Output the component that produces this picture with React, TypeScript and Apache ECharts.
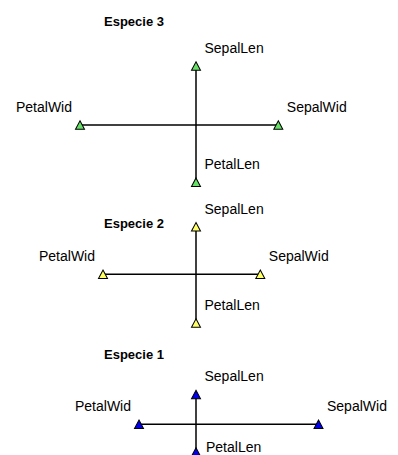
import { useEffect, useRef } from 'react';
import * as echarts from 'echarts';

// Star-plot arm lengths (relative units)
const species = ['Especie 3', 'Especie 2', 'Especie 1'];
const variables = ['SepalLen', 'SepalWid', 'PetalLen', 'PetalWid'];
const sepalLen = [0.59, 0.475, 0.298];
const sepalWid = [0.823, 0.643, 1.225];
const petalLen = [0.572, 0.487, 0.277];
const petalWid = [1.16, 0.93, 0.57];

const markerColors = ['#66E066', '#FFFF66', '#0000EE'];

const W = 398;
const H = 455;
const CX = 196;
const CENTERS_Y = [125, 274.3, 424.3];
const TITLE_Y = [21, 223.7, 354];
const TITLE_X = 104;
const PX_PER_UNIT = 100;
const XR = 1.5;
const YR = 0.3;
const FONT = '"Liberation Sans", Arial, Helvetica, sans-serif';

export default function App() {
  const ref = useRef<HTMLDivElement>(null);

  useEffect(() => {
    if (!ref.current) return;
    const chart = echarts.init(ref.current, undefined, { renderer: 'svg' });

    const grid: any[] = [];
    const xAxis: any[] = [];
    const yAxis: any[] = [];
    const series: any[] = [];
    const graphic: any[] = [];

    species.forEach((name, i) => {
      const cy = CENTERS_Y[i];
      grid.push({
        left: CX - XR * PX_PER_UNIT,
        top: cy - YR * PX_PER_UNIT,
        width: 2 * XR * PX_PER_UNIT,
        height: 2 * YR * PX_PER_UNIT,
        show: false,
      });
      xAxis.push({ gridIndex: i, type: 'value', min: -XR, max: XR, show: false });
      yAxis.push({ gridIndex: i, type: 'value', min: -YR, max: YR, show: false });

      const sl = sepalLen[i];
      const sw = sepalWid[i];
      const pl = petalLen[i];
      const pw = petalWid[i];

      const lineCommon = {
        type: 'line',
        xAxisIndex: i,
        yAxisIndex: i,
        showSymbol: false,
        symbol: 'none',
        silent: true,
        clip: false,
        z: 2,
        lineStyle: { color: '#000', width: 1.5 },
      };
      series.push({ ...lineCommon, name: name + ' h', data: [[-pw, 0], [sw, 0]] });
      series.push({ ...lineCommon, name: name + ' v', data: [[0, sl], [0, -pl]] });

      const points: [number, number][] = [
        [0, sl],
        [sw, 0],
        [0, -pl],
        [-pw, 0],
      ];
      const data = points.map((p, k) => {
        const item: any = { value: p, name: variables[k] };
        if (k === 3) {
          item.label = { align: 'right', offset: [-8, -18.5] };
        }
        if (k === 2) {
          const py = cy - p[1] * PX_PER_UNIT;
          if (py + 18 > H) {
            item.label = { offset: [10, -5.5] };
          }
        }
        return item;
      });
      series.push({
        type: 'scatter',
        name,
        xAxisIndex: i,
        yAxisIndex: i,
        clip: false,
        z: 3,
        symbol: 'triangle',
        symbolSize: [9, 8.5],
        itemStyle: { color: markerColors[i], borderColor: '#000', borderWidth: 1, opacity: 1 },
        label: {
          show: true,
          formatter: '{b}',
          position: 'inside',
          align: 'left',
          verticalAlign: 'middle',
          offset: [8.5, -18.3],
          fontSize: 14,
          fontFamily: FONT,
          color: '#000',
        },
        data,
      });

      graphic.push({
        type: 'text',
        x: TITLE_X,
        y: TITLE_Y[i],
        silent: true,
        style: {
          text: name,
          font: `bold 13px ${FONT}`,
          fill: '#000',
          align: 'left',
          verticalAlign: 'middle',
        },
      });
    });

    chart.setOption({
      animation: false,
      backgroundColor: '#ffffff',
      grid,
      xAxis,
      yAxis,
      series,
      graphic,
    });

    return () => chart.dispose();
  }, []);

  return (
    <div
      ref={ref}
      style={{ position: 'absolute', left: 0, top: 0, width: W, height: H }}
    />
  );
}
